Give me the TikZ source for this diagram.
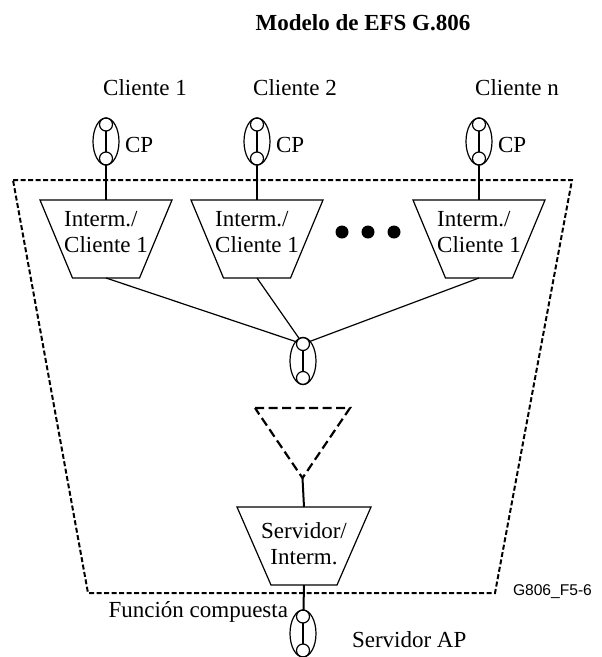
\documentclass[tikz,border=0pt]{standalone}
\usepackage{fontspec}
\setmainfont{Liberation Serif}
\newfontfamily\figsans{Liberation Sans}
\usetikzlibrary{shapes.geometric}

% trapezoidal function block drawn from the anchors of its box node
\newcommand\drawtrap[2]{%
  \draw[thinline, line join=miter] (#1.north west) -- (#1.north east)
    -- ([xshift=-#2pt]#1.south east) -- ([xshift=#2pt]#1.south west) -- cycle;}

% connection point: ellipse with two ports joined by a bar
\newcommand\connpt[3]{%
  \node[cpring] (#1) at (#2,#3) {};
  \node[port] (#1a) at ([yshift=-6.5pt]#1.north) {};
  \node[port] (#1b) at ([yshift=6.5pt]#1.south) {};
  \draw[link] (#1a) -- (#1b);}

\begin{document}
\begin{tikzpicture}[x=1pt, y=-1pt,
  every node/.style={inner sep=0pt, outer sep=0pt, font=\fontsize{23}{26}\selectfont},
  thinline/.style={line width=1.2pt},
  link/.style={line width=2pt},
  cpring/.style={ellipse, draw, line width=1.2pt, minimum width=26pt, minimum height=47pt},
  port/.style={circle, draw, line width=1.2pt, minimum size=13pt},
  trapbox/.style={rectangle, minimum width=132pt, minimum height=78pt},
  traptext/.style={align=center, font=\fontsize{23}{26}\selectfont},
  clienttext/.style={align=left, font=\fontsize{23}{26}\selectfont},
  dot/.style={circle, fill, minimum size=13pt},
  boundary/.style={line width=2pt, dash pattern=on 5pt off 2.5pt, line join=miter},
  ghost/.style={line width=2.2pt, dash pattern=on 9pt off 4.5pt}
]
\useasboundingbox (0,0) rectangle (602,657);

% title and client labels
\node[anchor=base] (title) at (363,30) {\bfseries Modelo de EFS G.806};
\node[anchor=base] (c1lbl) at (145,95) {Cliente 1};
\node[anchor=base] (c2lbl) at (295,95) {Cliente 2};
\node[anchor=base] (cnlbl) at (517,95) {Cliente n};

% client connection points
\connpt{cp1}{106}{141.5}
\connpt{cp2}{257}{141.5}
\connpt{cpn}{479}{141.5}
\node[anchor=base west] (cp1lbl) at (125,152) {CP};
\node[anchor=base west] (cp2lbl) at (276,152) {CP};
\node[anchor=base west] (cpnlbl) at (498,152) {CP};

% composite function boundary
\coordinate (o1) at (13,180);
\coordinate (o2) at (572,180);
\coordinate (o3) at (495,593);
\coordinate (o4) at (88,593);
\draw[boundary] (o1) -- (o2) -- (o3) -- (o4) -- cycle;

% adaptation blocks
\node[trapbox, label={[clienttext, yshift=7pt]center:Interm./\\Cliente 1}] (t1) at (106,239) {};
\node[trapbox, label={[clienttext, yshift=7pt]center:Interm./\\Cliente 1}] (t2) at (257,239) {};
\node[trapbox, label={[clienttext, yshift=7pt]center:Interm./\\Cliente 1}] (tn) at (479,239) {};
\drawtrap{t1}{32.5}
\drawtrap{t2}{32.5}
\drawtrap{tn}{32.5}

\draw[link] (cp1) -- (t1.north);
\draw[link] (cp2) -- (t2.north);
\draw[link] (cpn) -- (tn.north);

% ellipsis between blocks
\node[dot] (d1) at (342,232) {};
\node[dot] (d2) at (368,232) {};
\node[dot] (d3) at (394,232) {};

% intermediate connection point
\connpt{mid}{303}{361}
\draw[thinline] (t1.south) -- (mida);
\draw[thinline] (t2.south) -- (mida);
\draw[thinline] (tn.south) -- (mida);

% optional (dashed) layer
\coordinate (triL) at (255,408);
\coordinate (triR) at (350,408);
\coordinate (triA) at (302.5,478);
\draw[ghost] (triL) -- (triR) -- (triA) -- cycle;

% server adaptation block
\node[trapbox, minimum width=134pt, label={[traptext, yshift=2pt]center:Servidor/\\Interm.}] (srv) at (304,546) {};
\drawtrap{srv}{34}
\draw[link] (triA) -- (srv.north);

% server access point
\connpt{ap}{303}{633.5}
\draw[link] (srv.south) -- (ap);

\node[anchor=base east] (fc) at (288,617) {Función compuesta};
\node[anchor=base west] (sap) at (352,647) {Servidor AP};
\node[anchor=base west, font=\figsans\fontsize{15.6}{18}\selectfont] (fig) at (513,595) {G806\_F5-6};
\end{tikzpicture}
\end{document}
